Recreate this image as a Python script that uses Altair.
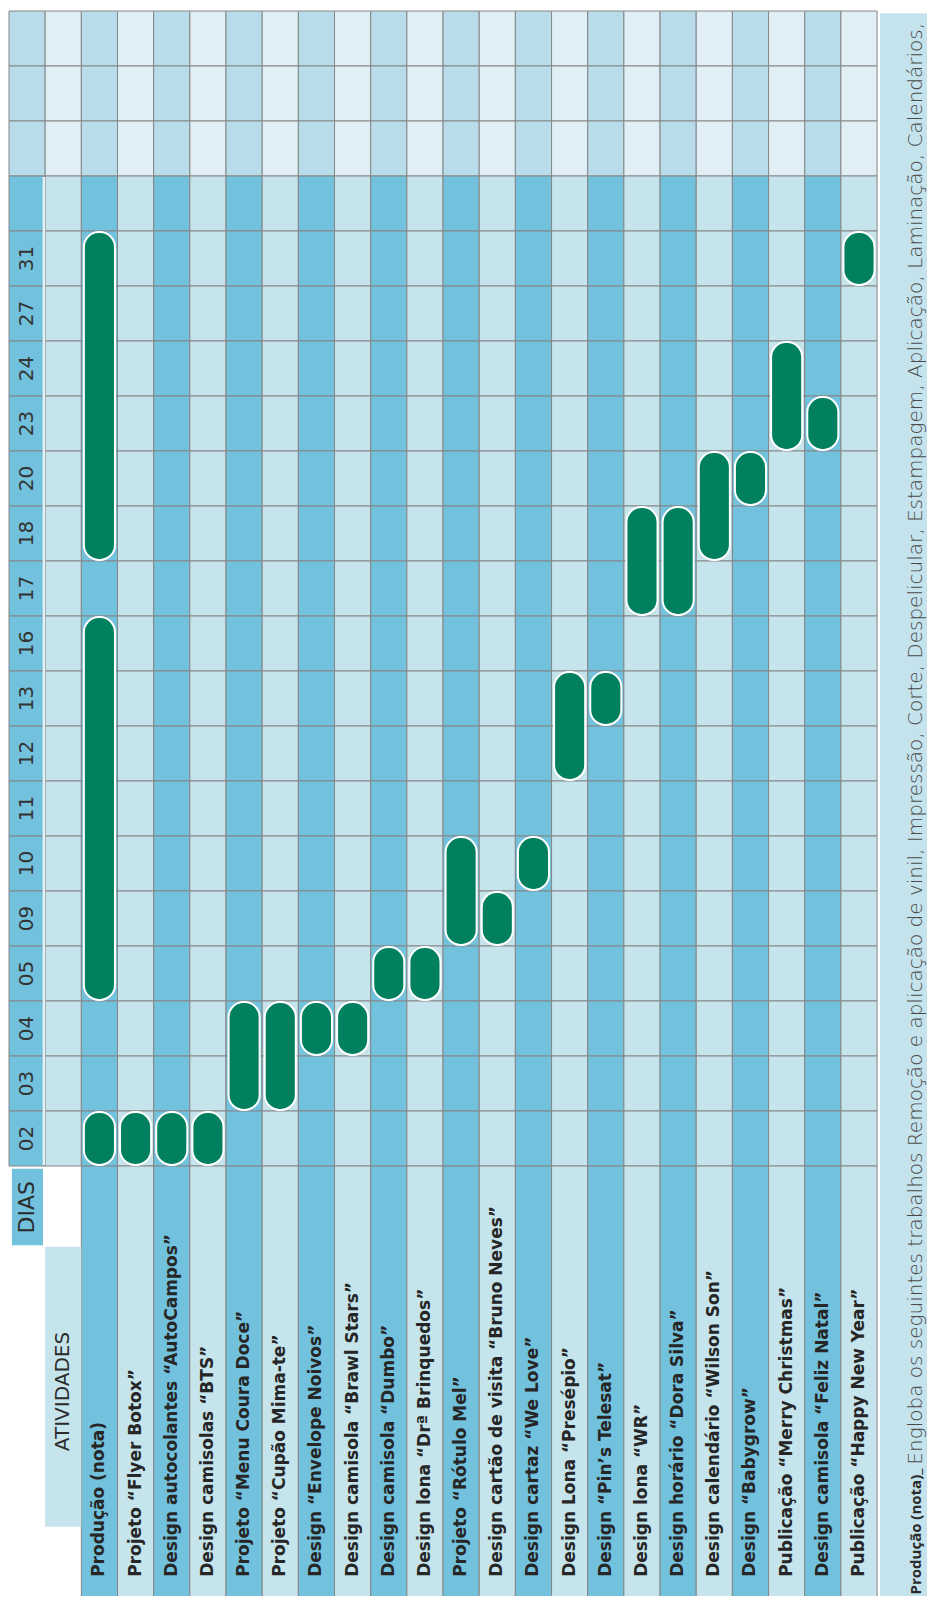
import altair as alt
import pandas as pd

# ---------------- data ----------------
activities = [
    "Produção (nota)",
    "Projeto “Flyer Botox”",
    "Design autocolantes “AutoCampos”",
    "Design camisolas “BTS”",
    "Projeto “Menu Coura Doce”",
    "Projeto “Cupão Mima-te”",
    "Design “Envelope Noivos”",
    "Design camisola “Brawl Stars”",
    "Design camisola “Dumbo”",
    "Design lona “Drª Brinquedos”",
    "Projeto “Rótulo Mel”",
    "Design cartão de visita “Bruno Neves”",
    "Design cartaz  “We Love”",
    "Design Lona “Presépio”",
    "Design “Pin’s Telesat”",
    "Design lona “WR”",
    "Design horário “Dora Silva”",
    "Design calendário “Wilson Son”",
    "Design “Babygrow”",
    "Publicação “Merry Christmas”",
    "Design camisola “Feliz Natal”",
    "Publicação “Happy New Year”",
]

# days listed from top of the (rotated) table to the bottom
days = ["31", "27", "24", "23", "20", "18", "17", "16", "13", "12",
        "11", "10", "09", "05", "04", "03", "02"]

bar_activity = [
    "Produção (nota)", "Produção (nota)", "Produção (nota)",
    "Projeto “Flyer Botox”",
    "Design autocolantes “AutoCampos”",
    "Design camisolas “BTS”",
    "Projeto “Menu Coura Doce”",
    "Projeto “Cupão Mima-te”",
    "Design “Envelope Noivos”",
    "Design camisola “Brawl Stars”",
    "Design camisola “Dumbo”",
    "Design lona “Drª Brinquedos”",
    "Projeto “Rótulo Mel”",
    "Design cartão de visita “Bruno Neves”",
    "Design cartaz  “We Love”",
    "Design Lona “Presépio”",
    "Design “Pin’s Telesat”",
    "Design lona “WR”",
    "Design horário “Dora Silva”",
    "Design calendário “Wilson Son”",
    "Design “Babygrow”",
    "Publicação “Merry Christmas”",
    "Design camisola “Feliz Natal”",
    "Publicação “Happy New Year”",
]
bar_start = ["02", "05", "18", "02", "02", "02", "03", "03", "04", "04",
             "05", "05", "09", "09", "10", "12", "13", "17", "17", "18",
             "20", "23", "23", "31"]
bar_end = ["02", "16", "31", "02", "02", "02", "04", "04", "04", "04",
           "05", "05", "10", "09", "10", "13", "13", "18", "18", "20",
           "20", "24", "23", "31"]

header_days = "DIAS"
header_activities = "ATIVIDADES"
footnote_bold = "Produção (nota)_"
footnote_text = ("Engloba os seguintes trabalhos  Remoção e aplicação de vinil, "
                 "Impressão, Corte, Despelicular, Estampagem, Aplicação, "
                 "Laminação,  Calendários,")

# ---------------- layout helpers ----------------
N_FADED = 3          # empty faded rows at the top
N_BLANK = 1          # empty normal row above "31"
N_COLS = 2 + len(activities)
N_ROWS = N_FADED + N_BLANK + len(days)

W, H = 919, 1588
COLW, ROWH = 36.17, 55.0
x0, y0 = 1.0, 3.0
xs = alt.Scale(domain=[-x0 / COLW, (W - x0) / COLW], nice=False, zero=False)
ys = alt.Scale(domain=[-y0 / ROWH, (H - y0) / ROWH], nice=False, zero=False, reverse=True)

FONT = "DejaVu Sans"


def row_of(day):
    return N_FADED + N_BLANK + days.index(day)


cells = []
for c in range(N_COLS):
    for r in range(N_ROWS):
        kind = ("faded" if r < N_FADED else "day") + ("_dark" if c % 2 == 0 else "_light")
        cells.append(dict(x=c, x2=c + 1, y=r, y2=r + 1, kind=kind))
for c in range(2, N_COLS):
    cells.append(dict(x=c, x2=c + 1, y=N_ROWS, y2=H / ROWH + 1,
                      kind="day_dark" if c % 2 == 0 else "day_light"))
cells_df = pd.DataFrame(cells)

kind_dom = ["faded_dark", "faded_light", "day_dark", "day_light", "note", "sep"]
kind_rng = ["#b9dcea", "#dfeff5", "#72c1dd", "#c5e4ec", "#c4e3ec", "#e4f2f6"]
color_scale = alt.Scale(domain=kind_dom, range=kind_rng)

bars = []
for a, s, e in zip(bar_activity, bar_start, bar_end):
    c = 2 + activities.index(a)
    bars.append(dict(x=c + 0.07, x2=c + 0.93,
                     y=row_of(e) + 0.02, y2=row_of(s) + 1 - 0.02, task=a))
bars_df = pd.DataFrame(bars)

day_lbl_df = pd.DataFrame([dict(x=0.5, y=row_of(d) + 0.5, label=d) for d in days])
act_lbl_df = pd.DataFrame([dict(x=2 + i + 0.5, y=28.47, label=a)
                           for i, a in enumerate(activities)])

boxes_df = pd.DataFrame([
    dict(x=0.08, x2=0.94, y=21.05, y2=22.44, kind="day_dark"),
    dict(x=1.0, x2=2.0, y=22.47, y2=27.56, kind="day_light"),
    dict(x=24.08, x2=26.0, y=0.04, y2=30.0, kind="note"),
    dict(x=0.93, x2=1.0, y=N_FADED + 0.02, y2=N_ROWS - 0.02, kind="sep"),
])

X = lambda f="x": alt.X(f"{f}:Q", scale=xs, axis=None)
Y = lambda f="y": alt.Y(f"{f}:Q", scale=ys, axis=None)

grid = alt.Chart(cells_df).mark_rect(stroke="#868686", strokeWidth=1).encode(
    x=X(), x2="x2:Q", y=Y(), y2="y2:Q",
    color=alt.Color("kind:N", scale=color_scale, legend=None),
)

boxes = alt.Chart(boxes_df).mark_rect().encode(
    x=X(), x2="x2:Q", y=Y(), y2="y2:Q",
    color=alt.Color("kind:N", scale=color_scale, legend=None),
)

bar_layer = alt.Chart(bars_df).mark_rect(
    color="#00805f", stroke="white", strokeWidth=2, cornerRadius=15
).encode(x=X(), x2="x2:Q", y=Y(), y2="y2:Q")

day_text = alt.Chart(day_lbl_df).mark_text(
    angle=270, font=FONT, fontSize=20, color="#333333",
    align="center", baseline="middle"
).encode(x=X(), y=Y(), text="label:N")

act_text = alt.Chart(act_lbl_df).mark_text(
    angle=270, font=FONT, fontSize=17, fontWeight="bold", color="#262626",
    align="left", baseline="middle"
).encode(x=X(), y=Y(), text="label:N")

hdr_df = pd.DataFrame([
    dict(x=0.51, y=21.75, label=header_days, size=22),
    dict(x=1.5, y=25.1, label=header_activities, size=20),
])
hdr_text = alt.Chart(hdr_df).mark_text(
    angle=270, font=FONT, color="#2b2b2b",
    align="center", baseline="middle"
).encode(x=X(), y=Y(), text="label:N",
         size=alt.Size("size:Q", scale=None, legend=None))

note_df = pd.DataFrame([dict(x=25.07, y=28.79, label=footnote_bold)])
note_df2 = pd.DataFrame([dict(x=25.07, y=26.43, label=footnote_text)])
note_bold = alt.Chart(note_df).mark_text(
    angle=270, font="Open Sans", fontSize=15, fontWeight="bold", color="#2b2b2b",
    align="left", baseline="middle"
).encode(x=X(), y=Y(), text="label:N")
note_reg = alt.Chart(note_df2).mark_text(
    angle=270, font=FONT, fontSize=20, fontWeight=300, color="#4a4a4a",
    align="left", baseline="middle"
).encode(x=X(), y=Y(), text="label:N")

chart = alt.layer(
    grid, boxes, bar_layer, day_text, act_text, hdr_text, note_bold, note_reg
).properties(
    width=W, height=H,
    autosize=alt.AutoSizeParams(type="none"),
    padding=0,
).configure_view(stroke=None)

chart.save("out.html", embed_options={"renderer": "svg", "actions": False})
